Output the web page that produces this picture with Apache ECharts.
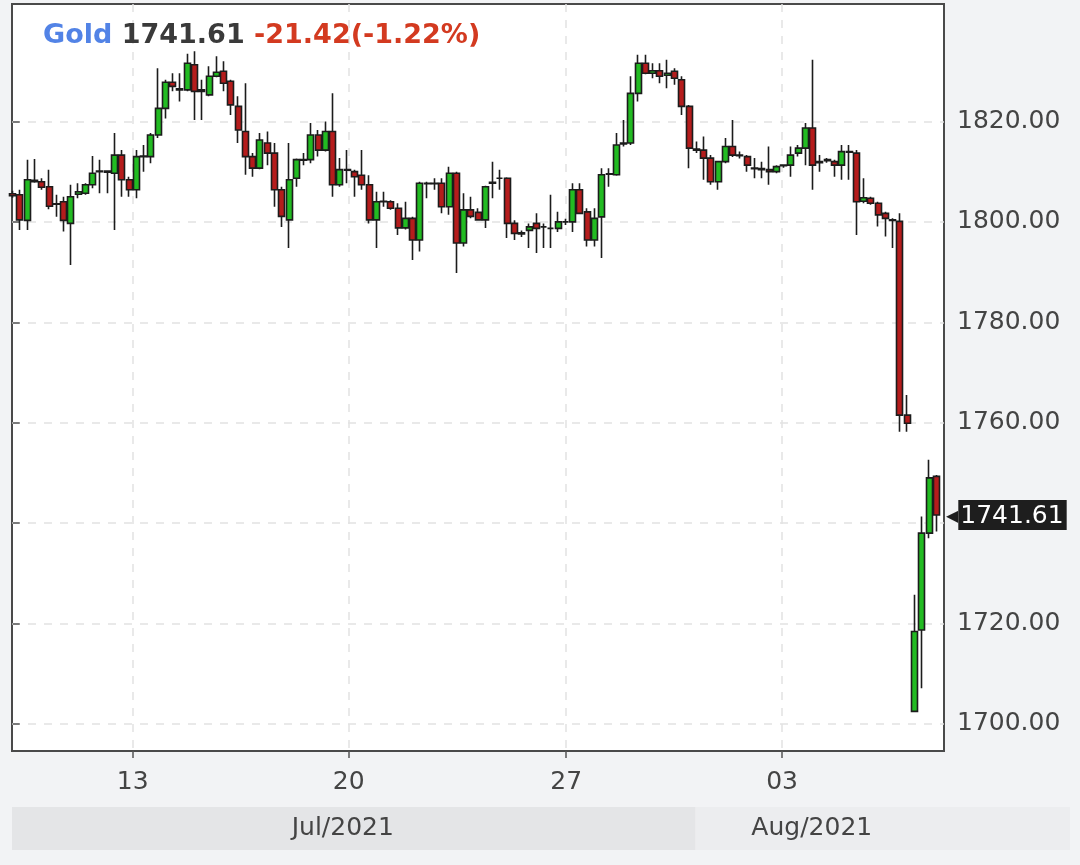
<!DOCTYPE html>
<html><head><meta charset="utf-8">
<script src="https://cdn.jsdelivr.net/npm/echarts@6/dist/echarts.min.js"></script>
<style>html,body{margin:0;padding:0;background:#f2f3f5;}#c{width:1080px;height:865px;}</style>
</head><body><div id="c"></div><script>
const symbolName = 'Gold';
const lastPrice = 1741.61;
const change = -21.42;
const changePct = -1.22;

const opens = [1805.6,1805.4,1800.3,1808.3,1808.0,1807.0,1803.6,1804.0,1799.7,1805.5,
1805.7,1807.4,1810.0,1810.1,1809.7,1813.3,1808.4,1806.4,1813.0,1813.0,
1817.3,1822.6,1827.8,1826.5,1826.3,1831.3,1826.3,1825.3,1829.0,1830.0,
1828.0,1823.0,1818.0,1813.0,1810.7,1815.7,1813.7,1806.4,1800.4,1808.7,
1812.4,1812.4,1817.3,1814.3,1818.0,1807.4,1810.3,1810.0,1809.3,1807.4,
1800.4,1804.0,1804.0,1802.7,1798.8,1800.7,1796.4,1807.7,1807.7,1807.7,
1803.0,1809.7,1795.8,1802.4,1801.9,1800.4,1807.7,1808.7,1808.7,1799.7,
1797.8,1798.3,1799.7,1799.0,1798.7,1798.7,1800.0,1800.0,1806.4,1802.0,
1796.4,1801.0,1809.5,1809.4,1815.5,1815.7,1825.6,1831.6,1829.6,1830.1,
1829.2,1830.0,1828.3,1823.0,1814.5,1814.3,1812.7,1808.0,1812.0,1815.0,
1813.3,1813.0,1810.7,1810.6,1810.4,1810.0,1811.2,1811.3,1813.7,1814.7,
1818.7,1811.8,1812.4,1812.0,1811.3,1814.0,1813.7,1804.1,1804.7,1803.7,
1801.7,1800.4,1800.1,1761.5,1702.5,1718.7,1738.0,1749.3];
const highs = [1806.2,1806.4,1812.4,1812.5,1808.7,1810.4,1805.4,1805.0,1807.4,1807.7,
1807.7,1813.1,1812.4,1810.3,1817.7,1814.3,1809.0,1814.3,1815.3,1817.7,
1830.6,1828.3,1829.6,1829.6,1833.5,1834.0,1828.3,1831.0,1833.0,1832.0,
1828.3,1825.0,1827.6,1813.7,1817.7,1818.0,1815.7,1807.0,1815.7,1812.6,
1813.7,1819.7,1818.3,1820.0,1825.6,1812.7,1814.3,1810.4,1814.3,1809.3,
1806.0,1806.0,1804.3,1803.7,1804.0,1801.0,1808.0,1808.0,1808.7,1808.7,
1811.0,1810.0,1805.7,1805.0,1802.7,1807.2,1812.0,1810.4,1808.9,1800.3,
1798.3,1799.7,1801.7,1799.7,1805.4,1802.0,1800.6,1807.7,1807.7,1802.7,
1802.7,1810.7,1810.7,1817.7,1820.3,1829.0,1833.3,1833.3,1831.6,1831.6,
1832.3,1830.6,1829.0,1823.3,1816.0,1817.0,1813.3,1812.2,1816.7,1820.3,
1814.0,1813.3,1812.7,1812.0,1815.0,1811.3,1811.5,1815.0,1815.3,1819.7,
1832.3,1813.3,1812.7,1812.4,1815.3,1815.3,1814.3,1808.7,1805.0,1804.0,
1802.0,1800.7,1801.7,1765.5,1725.7,1741.3,1752.6,1749.6];
const lows = [1804.8,1798.4,1798.4,1807.8,1806.4,1802.5,1801.0,1798.1,1791.4,1804.7,
1805.4,1806.7,1805.7,1805.7,1798.4,1805.0,1805.0,1804.7,1810.0,1811.7,
1816.7,1820.6,1826.0,1824.0,1826.0,1820.3,1820.3,1825.0,1828.8,1826.0,
1821.3,1815.7,1809.4,1809.0,1810.5,1811.3,1803.0,1799.0,1794.8,1807.0,
1811.3,1811.7,1813.0,1814.0,1805.0,1807.0,1807.7,1805.0,1806.4,1799.7,
1794.8,1803.0,1802.4,1797.4,1798.5,1792.4,1794.1,1804.7,1806.4,1801.7,
1801.4,1789.8,1795.1,1800.7,1800.2,1798.8,1804.7,1806.4,1796.8,1796.4,
1797.0,1794.8,1793.8,1794.8,1794.8,1798.0,1799.4,1798.0,1801.5,1795.1,
1795.1,1792.8,1807.0,1809.2,1815.0,1815.3,1824.0,1829.4,1828.6,1827.6,
1826.6,1827.3,1821.3,1810.7,1813.7,1808.4,1807.4,1806.4,1811.7,1812.9,
1812.6,1810.0,1808.7,1808.7,1807.4,1809.7,1810.8,1809.0,1813.0,1811.3,
1806.4,1810.0,1811.8,1809.0,1808.4,1808.4,1797.4,1803.7,1803.4,1799.1,
1797.1,1794.8,1758.2,1758.2,1702.5,1707.1,1737.0,1738.3];
const closes = [1805.2,1800.4,1808.4,1808.0,1806.9,1803.1,1803.5,1800.3,1805.0,1806.0,
1807.4,1809.7,1810.1,1809.9,1813.3,1808.4,1806.4,1813.0,1813.1,1817.3,
1822.6,1827.8,1827.0,1826.3,1831.6,1826.0,1826.0,1829.0,1829.8,1827.6,
1823.3,1818.3,1813.0,1810.7,1816.3,1813.7,1806.4,1801.1,1808.4,1812.4,
1812.3,1817.3,1814.3,1818.0,1807.4,1810.4,1810.4,1809.0,1807.4,1800.4,
1804.0,1804.1,1802.7,1798.8,1800.7,1796.4,1807.7,1807.6,1807.6,1803.0,
1809.7,1795.8,1802.4,1801.1,1800.4,1807.0,1807.9,1808.7,1799.7,1797.7,
1797.6,1799.0,1798.7,1799.0,1798.7,1800.0,1800.0,1806.4,1801.7,1796.4,
1800.7,1809.4,1809.6,1815.3,1815.7,1825.6,1831.6,1829.6,1830.1,1829.0,
1829.6,1828.6,1823.0,1814.7,1814.3,1812.7,1808.0,1812.0,1815.0,1813.3,
1813.2,1811.3,1810.6,1810.4,1810.0,1811.0,1811.3,1813.3,1814.7,1818.7,
1811.3,1812.0,1812.2,1811.3,1814.0,1813.9,1804.0,1804.8,1803.7,1801.4,
1800.7,1800.3,1761.5,1759.9,1718.4,1738.0,1749.0,1741.61];

const dayTickAt = [16.5, 46.2, 76.1, 105.8];
const dayTickLabels = ['13', '20', '27', '03'];
const priceTicks = [1700, 1720, 1740, 1760, 1780, 1800, 1820];
const monthBoundaryAt = 93.9;
const monthLabels = ['Jul/2021', 'Aug/2021'];

const FONT = 'DejaVu Sans';
const candles = opens.map((o, i) => [i, o, closes[i], lows[i], highs[i]]);

const chart = echarts.init(document.getElementById('c'), null, {renderer: 'canvas'});
const gridLeft = 12, gridRight = 136, gridTop = 4, gridBottom = 114;

chart.setOption({
  backgroundColor: '#f2f3f5',
  animation: false,
  title: {
    left: 38, top: 17,
    text: `{n|${symbolName}} {p|${lastPrice.toFixed(2)}} {c|${change.toFixed(2)}(${changePct.toFixed(2)}%)}`,
    textStyle: {
      fontFamily: FONT, fontSize: 27, fontWeight: 'bold',
      rich: {
        n: {color: '#5283e6', fontFamily: FONT, fontSize: 27, fontWeight: 'bold'},
        p: {color: '#3a3a3a', fontFamily: FONT, fontSize: 27, fontWeight: 'bold'},
        c: {color: '#d33a20', fontFamily: FONT, fontSize: 27, fontWeight: 'bold'}
      }
    }
  },
  grid: {
    left: gridLeft, right: gridRight, top: gridTop, bottom: gridBottom,
    show: true, backgroundColor: '#ffffff', borderColor: '#4a4a4a', borderWidth: 2
  },
  xAxis: {
    type: 'value', min: -0.1, max: 128.06,
    axisLine: {show: false},
    axisTick: {show: true, inside: false, length: 7, customValues: dayTickAt, lineStyle: {color: '#555', width: 1.5}},
    axisLabel: {
      customValues: dayTickAt, margin: 19, fontSize: 25, fontFamily: FONT, color: '#444',
      formatter: v => { const k = dayTickAt.findIndex(d => Math.abs(d - v) < 1e-6); return k >= 0 ? dayTickLabels[k] : ''; }
    },
    splitLine: {show: true, lineStyle: {color: '#e2e2e2', width: 1.5, type: [8, 8]}}
  },
  yAxis: {
    type: 'value', position: 'right', min: 1694.6, max: 1843.4, scale: true,
    axisLine: {show: false},
    axisTick: {show: true, inside: false, length: 7, customValues: priceTicks, lineStyle: {color: '#555', width: 1.5}},
    axisLabel: {customValues: priceTicks, margin: 13, fontSize: 25, fontFamily: FONT, color: '#444', formatter: v => v.toFixed(2)},
    splitLine: {show: true, lineStyle: {color: '#e2e2e2', width: 1.5, type: [8, 8]}}
  },
  series: [{
    type: 'candlestick',
    data: candles,
    barWidth: 6.5,
    clip: true,
    itemStyle: {
      color: '#22bb22', color0: '#b51c1c',
      borderColor: '#1c1c1c', borderColor0: '#1c1c1c', borderColorDoji: '#1c1c1c', borderWidth: 1.6
    },
    markLine: {
      silent: true, symbol: ['none', 'none'],
      data: [{yAxis: lastPrice}],
      lineStyle: {color: 'rgba(0,0,0,0)', width: 0},
      label: {
        show: true, position: 'end', distance: 2,
        formatter: `{a|◀}{b|${lastPrice.toFixed(2)}}`,
        rich: {
          a: {color: '#1e1e1e', fontSize: 16, fontFamily: FONT, padding: [4, 0, 0, 0]},
          b: {backgroundColor: '#1e1e1e', color: '#ffffff', fontSize: 25, fontFamily: FONT, padding: [4, 3, 1, 2], lineHeight: 26}
        }
      }
    }
  }]
});

// month bands beneath the date axis, positioned from the x scale
const bx = chart.convertToPixel({xAxisIndex: 0}, monthBoundaryAt);
const plotRight = 1080 - gridRight;
const bandTop = 807, bandH = 43;
chart.setOption({
  graphic: [
    {type: 'rect', shape: {x: gridLeft, y: bandTop, width: bx - gridLeft, height: bandH}, style: {fill: '#e4e5e7'}, silent: true},
    {type: 'rect', shape: {x: bx, y: bandTop, width: 1070 - bx, height: bandH}, style: {fill: '#ecedef'}, silent: true},
    {type: 'text', x: (gridLeft + bx) / 2 - 11, y: bandTop + bandH / 2, style: {text: monthLabels[0], fill: '#444', font: `25px "${FONT}"`, align: 'center', verticalAlign: 'middle'}, silent: true},
    {type: 'text', x: (bx + plotRight) / 2 - 8, y: bandTop + bandH / 2, style: {text: monthLabels[1], fill: '#444', font: `25px "${FONT}"`, align: 'center', verticalAlign: 'middle'}, silent: true}
  ]
});
</script></body></html>
